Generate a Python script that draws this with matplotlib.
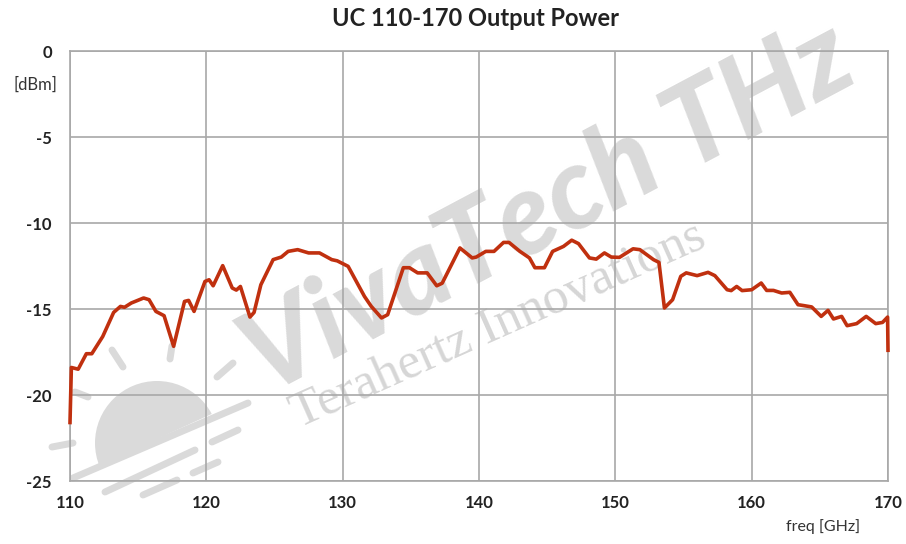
import numpy as np
import matplotlib.pyplot as plt
from matplotlib.patches import Circle, Polygon

plt.rcParams['font.family'] = ['Lato', 'DejaVu Sans']
plt.rcParams['axes.unicode_minus'] = False

freq = [110.0, 110.1, 110.6, 111.2, 111.6, 112.4, 113.2, 113.7, 114.0, 114.5,
        115.4, 115.8, 116.3, 116.9, 117.6, 118.4, 118.7, 119.1, 119.9, 120.2,
        120.5, 121.2, 121.9, 122.2, 122.5, 123.2, 123.5, 124.0, 124.9, 125.5,
        126.0, 126.7, 127.5, 128.3, 129.2, 129.6, 130.4, 131.6, 132.1, 132.85,
        133.3, 134.45, 134.9, 135.5, 136.2, 136.9, 137.3, 138.6, 139.5, 139.8,
        140.5, 141.1, 141.8, 142.2, 143.0, 143.7, 144.1, 144.8, 145.4, 146.2,
        146.8, 147.3, 148.1, 148.6, 149.2, 149.7, 150.3, 151.3, 151.8, 152.8,
        153.2, 153.6, 154.2, 154.8, 155.2, 156.0, 156.8, 157.3, 158.2, 158.5,
        158.9, 159.3, 160.0, 160.7, 161.1, 161.6, 162.2, 162.8, 163.4, 163.8,
        164.4, 165.1, 165.6, 166.0, 166.6, 167.0, 167.7, 168.4, 169.1, 169.6,
        169.97, 170.0]
power = [-21.6, -18.4, -18.5, -17.6, -17.6, -16.6, -15.2, -14.85, -14.9, -14.65,
         -14.36, -14.46, -15.14, -15.39, -17.17, -14.56, -14.5, -15.14, -13.4, -13.3,
         -13.65, -12.48, -13.78, -13.9, -13.69, -15.47, -15.2, -13.59, -12.13, -11.98,
         -11.65, -11.55, -11.74, -11.74, -12.13, -12.2, -12.52, -14.27, -14.85, -15.52,
         -15.33, -12.6, -12.6, -12.9, -12.9, -13.65, -13.5, -11.45, -12.03, -11.98,
         -11.65, -11.65, -11.13, -11.13, -11.65, -12.03, -12.6, -12.6, -11.65, -11.36,
         -11.0, -11.2, -12.03, -12.1, -11.74, -11.98, -12.0, -11.5, -11.55, -12.13,
         -12.29, -14.94, -14.46, -13.1, -12.9, -13.06, -12.87, -13.06, -13.88, -13.93,
         -13.69, -13.93, -13.88, -13.49, -13.92, -13.92, -14.07, -14.03, -14.75, -14.8,
         -14.88, -15.43, -15.08, -15.58, -15.43, -15.97, -15.85, -15.43, -15.85, -15.78,
         -15.47, -17.4]

xticks = [110, 120, 130, 140, 150, 160, 170]
yticks = [0, -5, -10, -15, -20, -25]

fig = plt.figure(figsize=(9.06, 5.44), dpi=100)

# watermark layer (pixel coordinates, y down)
wm = fig.add_axes([0, 0, 1, 1], zorder=-1)
wm.set_xlim(0, 906)
wm.set_ylim(544, 0)
wm.axis('off')
wm_col = '#dadada'
wm.text(548, 208, 'VivaTech THz', rotation=28, rotation_mode='anchor',
        ha='center', va='center', fontsize=82, fontweight='black',
        fontstyle='italic', color=wm_col)
wm.text(498, 326, 'Terahertz Innovations', rotation=24, rotation_mode='anchor',
        ha='center', va='center', fontsize=37, family='Liberation Serif',
        color='#d6d6d6')
sun = Circle((157, 443), 62, color=wm_col, lw=0)
wm.add_patch(sun)
cut = Polygon([(0, 0), (906, 0), (906, 0), (216.7, 411.7), (100, 465), (0, 510)],
              closed=True, transform=wm.transData)
sun.set_clip_path(cut)
strokes = [((73, 478), (248, 403)), ((105, 492), (195, 450)), ((212, 442), (238, 430)),
           ((143, 495), (177, 480)), ((193, 473), (218, 462)), ((52, 447), (73, 443)),
           ((75, 392), (88, 397)), ((112, 350), (123, 367)), ((172, 346), (170, 359)),
           ((217, 377), (233, 363))]
for (x0, y0), (x1, y1) in strokes:
    wm.plot([x0, x1], [y0, y1], color=wm_col, lw=5, solid_capstyle='round')

ax = fig.add_axes([70 / 906, 1 - 481 / 544, 818 / 906, 430 / 544])
ax.set_facecolor('none')
ax.plot(freq, power, color='#c0300f', lw=2.6, zorder=3, clip_on=False)

ax.set_xlim(110, 170)
ax.set_ylim(-25, 0)
ax.set_xticks(xticks)
ax.set_yticks(yticks)
ax.grid(True, color='#a8a8a8', lw=1.2)
for s in ax.spines.values():
    s.set_color('#a8a8a8')
    s.set_linewidth(1.2)
ax.tick_params(length=0, labelsize=12, colors='#222222')
ax.tick_params(axis='y', pad=13)
ax.tick_params(axis='x', pad=10)
for lab in ax.get_xticklabels() + ax.get_yticklabels():
    lab.set_fontweight('bold')

fig.text(475 / 906, 1 - 18 / 544, 'UC 110-170 Output Power', ha='center', va='center',
         fontsize=17, fontweight='bold', color='#222222')
fig.text(35 / 906, 1 - 85 / 544, '[dBm]', ha='center', va='center', fontsize=12,
         color='#333333')
fig.text(823 / 906, 1 - 527 / 544, 'freq [GHz]', ha='center', va='center', fontsize=11.5,
         color='#333333')

fig.savefig('out.png', dpi=100)
